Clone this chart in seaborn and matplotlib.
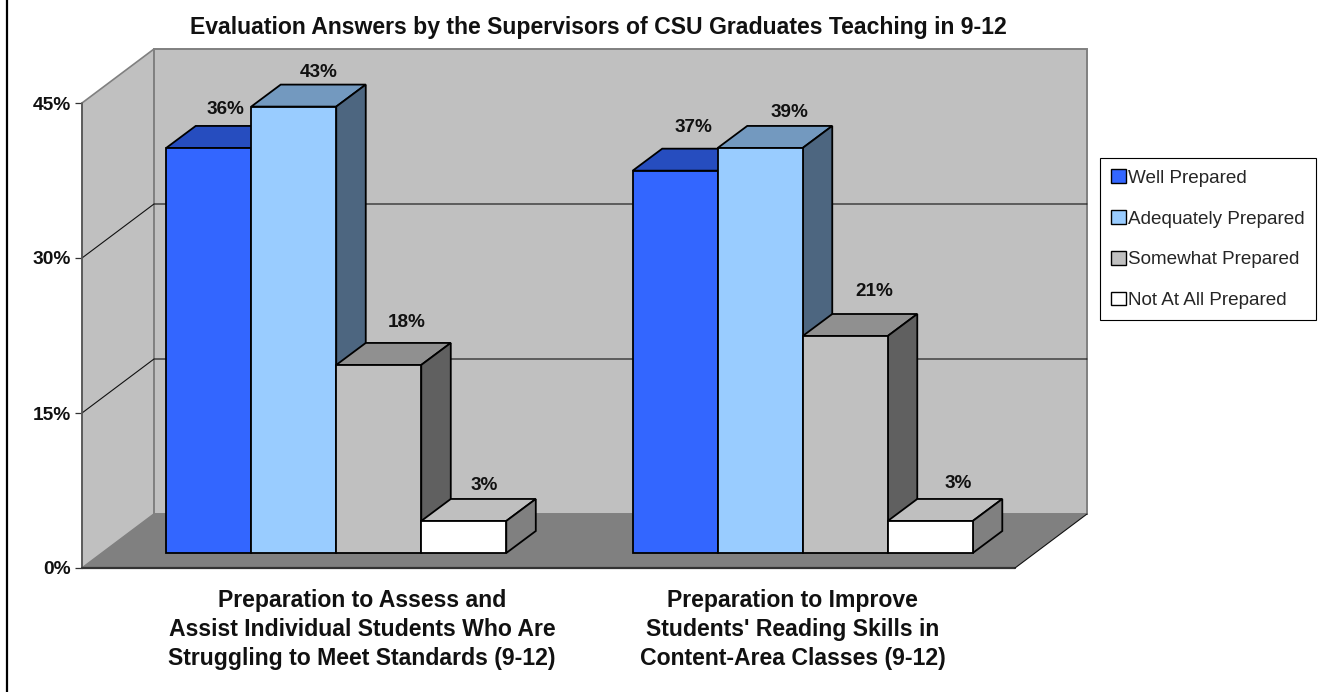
import matplotlib
matplotlib.use("Agg")
import matplotlib.pyplot as plt
import matplotlib.transforms as mtrans
from matplotlib.colors import to_rgb
from matplotlib.lines import Line2D
from matplotlib.patches import Patch, Polygon
import pandas as pd
import seaborn as sns

# data
categories = ["Preparation to Assess and\nAssist Individual Students Who Are\nStruggling to Meet Standards (9-12)",
              "Preparation to Improve\nStudents' Reading Skills in\nContent-Area Classes (9-12)"]
levels = ["Well Prepared", "Adequately Prepared", "Somewhat Prepared", "Not At All Prepared"]
well_prepared = [39.2, 37]
adequately_prepared = [43.2, 39.2]
somewhat_prepared = [18.2, 21]
not_at_all_prepared = [3.1, 3.1]
# the printed labels, the first one does not agree with its bar in the original
value_labels = ["36%", "37%", "43%", "39%", "18%", "21%", "3%", "3%"]
y_ticks = [0, 15, 30, 45]

level_colors = ["#3366FF", "#99CCFF", "#C0C0C0", "#FFFFFF"]

W, H = 1342, 692


def px_axes(left, top, right, bottom):
    return [left / W, 1 - bottom / H, (right - left) / W, (bottom - top) / H]


def shade(color, factor):
    return tuple(c * factor for c in to_rgb(color))


df = pd.DataFrame({
    "category": categories * 4,
    "level": [lv for lv in levels for _ in categories],
    "value": well_prepared + adequately_prepared + somewhat_prepared + not_at_all_prepared,
})

sns.set_theme(style="white")
plt.rcParams["font.family"] = ["Liberation Sans", "DejaVu Sans"]

fig = plt.figure(figsize=(W / 100, H / 100), dpi=100, facecolor="white")

# --- room: walls and floor, the y axis sits on its front plane ---
room = fig.add_axes(px_axes(82, 103, 1015, 568), zorder=1)
room.set_xlim(-0.5, 1.5)
room.set_ylim(0, 45)
room.patch.set_visible(False)
for s in room.spines.values():
    s.set_visible(False)
room_dx = 2 * 72 / 933
room_dy = 45 * 54 / 465
x0, x1 = -0.5, 1.5
wall_edge = "#808080"
room.add_patch(Polygon([(x0, 0), (x0 + room_dx, room_dy), (x0 + room_dx, 45 + room_dy), (x0, 45)],
                       fc="#C0C0C0", ec=wall_edge, lw=1.2, clip_on=False))
room.add_patch(Polygon([(x0 + room_dx, room_dy), (x1 + room_dx, room_dy), (x1 + room_dx, 45 + room_dy),
                        (x0 + room_dx, 45 + room_dy)], fc="#C0C0C0", ec=wall_edge, lw=1.4, clip_on=False))
room.add_patch(Polygon([(x0, 0), (x1, 0), (x1 + room_dx, room_dy), (x0 + room_dx, room_dy)],
                       fc="#808080", ec="none", clip_on=False))
for t in y_ticks[1:3]:
    room.plot([x0, x0 + room_dx, x1 + room_dx], [t, t + room_dy, t + room_dy], color="#111111", lw=0.8,
              clip_on=False, zorder=3)
room.plot([x0, x0], [0, 45], color="#555555", lw=1.2, clip_on=False, zorder=3)
room.plot([x0, x1], [0, 0], color="#333333", lw=1.6, clip_on=False, zorder=3)
room.plot([x1, x1 + room_dx], [0, room_dy], color="#111111", lw=0.8, clip_on=False, zorder=3)
room.set_xticks([])
room.set_yticks(y_ticks)
room.set_yticklabels([f"{t}%" for t in y_ticks], fontsize=13.8, fontweight="bold", color="#111111")
room.tick_params(axis="y", left=True, length=5, width=0.9, color="#333333", pad=3)

# --- bars ---
ax = fig.add_axes(px_axes(103, 88, 1036, 553), zorder=2)
sns.barplot(data=df, x="category", y="value", hue="level", hue_order=levels, order=categories,
            palette=level_colors, saturation=1, width=0.729, gap=0, edgecolor="black", linewidth=1.3,
            legend=False, ax=ax)
ax.set_xlim(-0.5, 1.5)
ax.set_ylim(0, 45)
ax.patch.set_visible(False)
for s in ax.spines.values():
    s.set_visible(False)
ax.set_xlabel("")
ax.set_ylabel("")
ax.set_yticks([])

# extruded top and side for each bar, left to right so later bars cover earlier sides
bar_dx = 2 * 29.5 / 933
bar_dy = 45 * 22 / 465
bars = sorted([b for b in ax.patches if b.get_height() > 0], key=lambda b: b.get_x())
bar_colors = [level_colors[i % 4] for i in range(8)]
for k, (bar, col) in enumerate(zip(bars, bar_colors)):
    xl, xr, h = bar.get_x(), bar.get_x() + bar.get_width(), bar.get_height()
    z = 3 + k
    ax.add_patch(Polygon([(xl, h), (xr, h), (xr + bar_dx, h + bar_dy), (xl + bar_dx, h + bar_dy)],
                         fc=shade(col, 0.75), ec="black", lw=1.3, clip_on=False, zorder=z))
    ax.add_patch(Polygon([(xr, 0), (xr + bar_dx, bar_dy), (xr + bar_dx, h + bar_dy), (xr, h)],
                         fc=shade(col, 0.5), ec="black", lw=1.3, clip_on=False, zorder=z))
    bar.set_zorder(z + 0.5)
    bar.set_clip_on(False)

# value labels, nudged per bar as in the original
label_dx = [17, 25, 28, 20, 18, 29, 29, 28]
label_dy = [38, 34, 42, 35, 43, 35, 45, 37]
labels_left_to_right = [value_labels[0], value_labels[2], value_labels[4], value_labels[6],
                        value_labels[1], value_labels[3], value_labels[5], value_labels[7]]
for bar, txt, dx, dy in zip(bars, labels_left_to_right, label_dx, label_dy):
    ax.annotate(txt, (bar.get_x() + bar.get_width() / 2, bar.get_height()), xytext=(dx, dy),
                textcoords="offset pixels", ha="center", va="center", fontsize=13.6, fontweight="bold",
                color="#111111", zorder=20)

# category labels, they are not centred under the bars in the original
ax.set_xticks([0, 1])
ax.set_xticklabels(categories, fontsize=16.6, fontweight="bold", color="#111111", linespacing=1.33, ma="center")
ax.tick_params(axis="x", bottom=False, length=0, pad=26)
for lab, dx in zip(ax.get_xticklabels(), [26, -10]):
    lab.set_transform(lab.get_transform() + mtrans.ScaledTranslation(dx / 100, 0, fig.dpi_scale_trans))

fig.text(598 / W, 1 - 27.5 / H, "Evaluation Answers by the Supervisors of CSU Graduates Teaching in 9-12",
         ha="center", va="center", fontsize=16.6, fontweight="bold", color="#111111")

handles = [Patch(fc=c, ec="black", lw=1) for c in level_colors]
leg = fig.legend(handles, levels, loc="upper left", bbox_to_anchor=(1100 / W, 1 - 158 / H), borderaxespad=0,
                 fontsize=13.6, frameon=True, fancybox=False, edgecolor="black", framealpha=1,
                 handlelength=0.75, handleheight=0.75, handletextpad=0.15, labelspacing=1.23,
                 borderpad=0.6)
leg.get_frame().set_linewidth(0.8)

# black rule down the left edge of the picture
fig.add_artist(Line2D([7 / W, 7 / W], [0, 1], color="black", lw=1.6))

fig.savefig("out.png", dpi=100)
